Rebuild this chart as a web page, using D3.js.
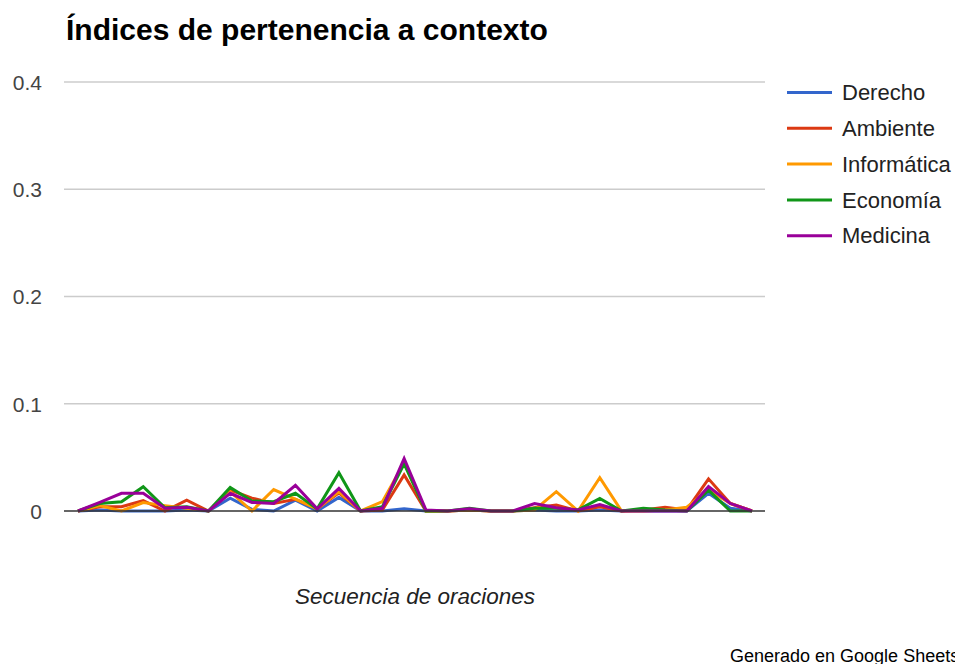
<!DOCTYPE html>
<html><head><meta charset="utf-8">
<script src="https://cdn.jsdelivr.net/npm/d3@7"></script>
<style>body{margin:0;background:#fff;} svg{display:block;font-family:"Liberation Sans",Arial,sans-serif;}</style>
</head><body>
<svg id="chart" width="955" height="664"></svg>
<script>
const seriesNames = ["Derecho","Ambiente","Informática","Economía","Medicina"];
const seriesColors = ["#3366cc","#dc3912","#ff9900","#109618","#990099"];
const yTicks = [0,0.1,0.2,0.3,0.4];
const sentenceIndex = d3.range(1,33);
const derecho    = [0,0.001,0,0,0,0.001,0,0.012,0.0015,0,0.010,0,0.0127,0,0,0.002,0,0,0.001,0,0,0.001,0,0,0.001,0,0,0,0,0.0165,0.0025,0];
const ambiente   = [0,0.004,0.004,0.0096,0,0.010,0,0.0195,0.012,0.007,0.011,0.002,0.017,0,0.001,0.0336,0,0,0.001,0,0,0.003,0.0056,0,0.004,0,0.001,0.0035,0.001,0.030,0.007,0];
const informatica= [0,0.005,0,0.0078,0.005,0.0025,0,0.018,0,0.020,0.011,0.002,0.018,0,0.0087,0.045,0,0,0.001,0,0,0.001,0.018,0,0.031,0,0,0.001,0.0035,0.0195,0.007,0];
const economia   = [0,0.007,0.0087,0.0227,0.003,0.004,0,0.022,0.0093,0.0087,0.0165,0.002,0.0357,0,0.004,0.044,0,0,0.0025,0,0,0.0025,0.0025,0.001,0.0118,0,0.0025,0.001,0,0.0195,0,0];
const medicina   = [0,0.008,0.0165,0.0165,0.0025,0.0035,0,0.0165,0.008,0.007,0.024,0.002,0.021,0,0.0025,0.049,0.001,0,0.002,0,0,0.007,0.003,0.001,0.006,0,0,0,0,0.0227,0.007,0];
const seriesValues = [derecho,ambiente,informatica,economia,medicina];

const svg = d3.select("#chart");
const x = d3.scalePoint().domain(sentenceIndex).range([78,752]);
const y = d3.scaleLinear().domain([0,0.4]).range([511,82]);

svg.append("text").attr("x",66).attr("y",40).attr("font-size",30).attr("font-weight","bold").attr("fill","#000")
  .text("Índices de pertenencia a contexto");

// gridlines
svg.append("g").selectAll("line").data(yTicks.filter(d=>d>0)).join("line")
  .attr("x1",64).attr("x2",765).attr("y1",d=>y(d)).attr("y2",d=>y(d))
  .attr("stroke","#cccccc").attr("stroke-width",1.3);

// y axis labels
const yAxis = d3.axisLeft(y).tickValues(yTicks).tickFormat(d=>d===0?"0":d3.format(".1f")(d)).tickSize(0).tickPadding(0);
const ga = svg.append("g").attr("transform","translate(42,0)").call(yAxis);
ga.select(".domain").remove();
ga.selectAll("text").attr("font-size",21).attr("fill","#444").attr("font-family","Liberation Sans, Arial, sans-serif").attr("dy","0.35em");

// lines
const line = d3.line().x((d,i)=>x(sentenceIndex[i])).y(d=>y(d));
svg.append("g").selectAll("path").data(seriesValues).join("path")
  .attr("d",d=>line(d)).attr("fill","none")
  .attr("stroke",(d,i)=>seriesColors[i]).attr("stroke-width",3).attr("stroke-linejoin","miter");

// baseline
svg.append("line").attr("x1",64).attr("x2",765).attr("y1",y(0)).attr("y2",y(0)).attr("stroke","#333").attr("stroke-width",1.3);

// legend
const lg = svg.append("g").selectAll("g").data(seriesNames).join("g")
  .attr("transform",(d,i)=>`translate(787,${92.5+i*35.8})`);
lg.append("line").attr("x1",0).attr("x2",45).attr("stroke",(d,i)=>seriesColors[i]).attr("stroke-width",3);
lg.append("text").attr("x",55).attr("dy","0.35em").attr("font-size",22).attr("fill","#222").text(d=>d);

svg.append("text").attr("x",415).attr("y",604).attr("text-anchor","middle").attr("font-size",22.5)
  .attr("font-style","italic").attr("fill","#222").text("Secuencia de oraciones");

svg.append("text").attr("x",730).attr("y",662).attr("font-size",18).attr("fill","#000").text("Generado en Google Sheets");
</script>
</body></html>
